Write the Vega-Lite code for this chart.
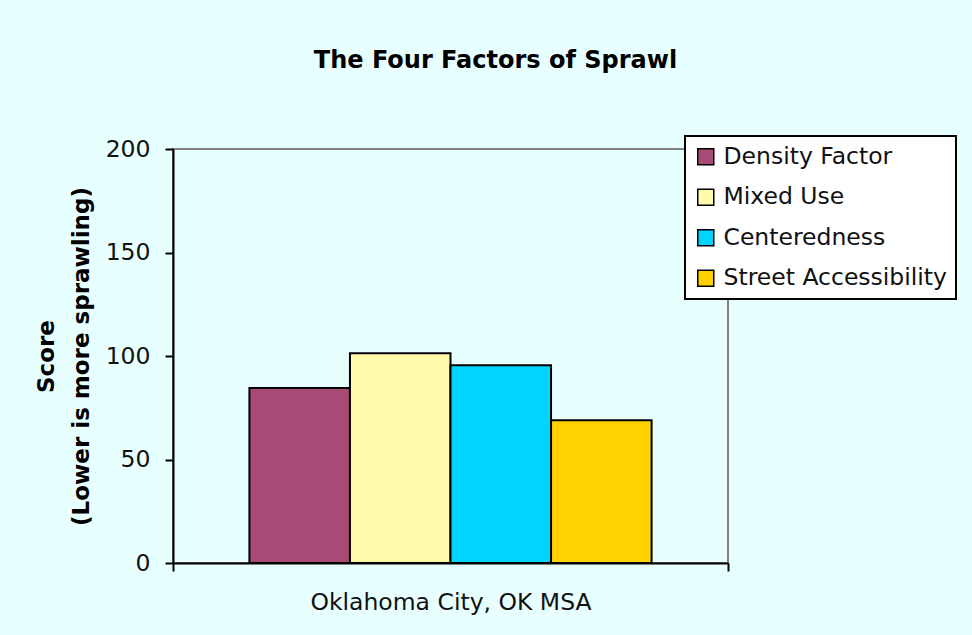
{
  "$schema": "https://vega.github.io/schema/vega-lite/v6.json",
  "width": 555,
  "height": 414,
  "autosize": {"type": "none"},
  "padding": {"left": 173, "top": 149, "right": 244, "bottom": 72},
  "background": "#E8FFFF",
  "title": {
    "text": "The Four Factors of Sprawl",
    "font": "DejaVu Sans",
    "fontSize": 24,
    "fontWeight": "bold",
    "color": "#000000",
    "anchor": "middle",
    "frame": "group",
    "baseline": "alphabetic",
    "dx": 45,
    "offset": 43
  },
  "data": {
    "values": [
      {"msa": "Oklahoma City, OK MSA", "factor": "Density Factor", "score": 84.6},
      {"msa": "Oklahoma City, OK MSA", "factor": "Mixed Use", "score": 101.3},
      {"msa": "Oklahoma City, OK MSA", "factor": "Centeredness", "score": 95.5},
      {"msa": "Oklahoma City, OK MSA", "factor": "Street Accessibility", "score": 69.0}
    ]
  },
  "mark": {"type": "bar", "stroke": "#000000", "strokeWidth": 2},
  "encoding": {
    "x": {
      "field": "msa",
      "type": "nominal",
      "title": null,
      "scale": {"paddingInner": 0, "paddingOuter": 0},
      "axis": {
        "labelAngle": 0,
        "labelLimit": 1000,
        "tickBand": "extent",
        "domainColor": "#000000",
        "domainWidth": 2,
        "tickColor": "#000000",
        "tickWidth": 2,
        "tickSize": 8,
        "labelFont": "DejaVu Sans",
        "labelFontSize": 23.5,
        "labelColor": "#111111",
        "labelPadding": 19
      }
    },
    "xOffset": {
      "field": "factor",
      "type": "nominal",
      "scale": {
        "domain": ["Density Factor", "Mixed Use", "Centeredness", "Street Accessibility"],
        "paddingInner": 0,
        "paddingOuter": 0.76
      }
    },
    "y": {
      "field": "score",
      "type": "quantitative",
      "scale": {"domain": [0, 200]},
      "axis": {
        "values": [0, 50, 100, 150, 200],
        "grid": false,
        "title": ["Score", "(Lower is more sprawling)"],
        "titleFont": "DejaVu Sans",
        "titleFontSize": 23,
        "titleFontWeight": "bold",
        "titleColor": "#000000",
        "titleLineHeight": 35,
        "titlePadding": 12,
        "domainColor": "#000000",
        "domainWidth": 2,
        "tickColor": "#000000",
        "tickWidth": 2,
        "tickSize": 8,
        "labelFont": "DejaVu Sans",
        "labelFontSize": 23.5,
        "labelColor": "#111111",
        "labelPadding": 15
      }
    },
    "color": {
      "field": "factor",
      "type": "nominal",
      "scale": {
        "domain": ["Density Factor", "Mixed Use", "Centeredness", "Street Accessibility"],
        "range": ["#A84A76", "#FFFBAA", "#00D4FF", "#FFD100"]
      },
      "legend": {
        "orient": "none",
        "legendX": 512,
        "legendY": -13,
        "title": null,
        "fillColor": "#FFFFFF",
        "strokeColor": "#000000",
        "padding": 9,
        "symbolType": "square",
        "symbolSize": 256,
        "symbolStrokeColor": "#000000",
        "symbolStrokeWidth": 1.5,
        "symbolOpacity": 1,
        "labelFont": "DejaVu Sans",
        "labelFontSize": 23.5,
        "labelColor": "#111111",
        "labelLimit": 1000,
        "labelOffset": 6,
        "rowPadding": 15.5,
        "encode": {
          "legend": {"update": {"strokeWidth": {"value": 2}}}
        }
      }
    }
  },
  "config": {
    "view": {
      "stroke": "#808080",
      "strokeWidth": 2
    }
  }
}
